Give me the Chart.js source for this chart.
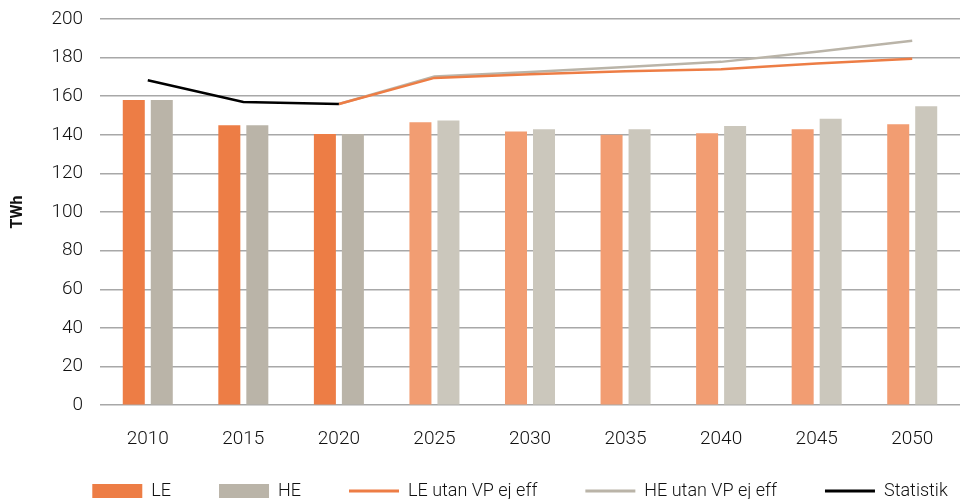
<!DOCTYPE html>
<html>
<head>
<meta charset="utf-8">
<script src="https://cdn.jsdelivr.net/npm/chart.js@4/dist/chart.umd.min.js"></script>
<style>
  html, body { margin: 0; padding: 0; background: #fff; }
  #wrap { width: 960px; height: 499px; position: relative; }
</style>
</head>
<body>
<div id="wrap"><canvas id="chart"></canvas></div>
<script>
// data
var years = ["2010", "2015", "2020", "2025", "2030", "2035", "2040", "2045", "2050"];
var le = [158, 145, 140.5, 146.5, 141.8, 140, 140.8, 142.9, 145.5];
var he = [158, 145, 140.5, 147.5, 142.9, 142.9, 144.6, 148.4, 154.8];
var leUtan = [null, null, 156, 169.5, 171.4, 173, 174, 177, 179.4];
var heUtan = [null, null, 156, 170.2, 172.5, 175.2, 177.8, 183, 188.7];
var statistik = [168.3, 157, 156, null, null, null, null, null, null];
var yTicks = [0, 20, 40, 60, 80, 100, 120, 140, 160, 180, 200];

var orange = 'rgb(237, 125, 69)';
var orangeLight = 'rgb(242, 157, 114)';
var grey = 'rgb(186, 180, 168)';
var greyLight = 'rgb(203, 199, 188)';

// first three years are outcome, the rest projections (lighter)
function barColors(solid, light) {
  return years.map(function (y) { return +y <= 2020 ? solid : light; });
}

var font = "Roboto, 'Liberation Sans', sans-serif";
Chart.defaults.font.family = font;
Chart.defaults.color = '#222';

// legend: keep wide spacing between items but not so much height,
// and move it a bit to the right like the original
var legendShift = {
  id: 'legendShift',
  beforeUpdate: function (c) {
    var lg = c.legend;
    if (!lg || lg._shifted) return;
    lg._shifted = true;
    var fit = lg.fit;
    lg.fit = function () {
      fit.call(this);
      this.height -= 51;
    };
    var draw = lg.draw;
    lg.draw = function () {
      var t = this.top, l = this.left, r = this.right;
      this.top -= 40;
      this.left += 38;
      this.right += 38;
      draw.call(this);
      this.top = t; this.left = l; this.right = r;
    };
  }
};

var ctx = document.getElementById('chart');

var chart = new Chart(ctx, {
  type: 'bar',
  data: {
    labels: years,
    datasets: [{
      label: 'LE',
      data: le,
      backgroundColor: barColors(orange, orangeLight),
      order: 2,
      categoryPercentage: 0.586,
      barPercentage: 0.786
    }, {
      label: 'HE',
      data: he,
      backgroundColor: barColors(grey, greyLight),
      order: 2,
      categoryPercentage: 0.586,
      barPercentage: 0.786
    }, {
      type: 'line',
      label: 'LE utan VP ej eff',
      data: leUtan,
      borderColor: orange,
      backgroundColor: orange,
      borderWidth: 2.5,
      pointRadius: 0,
      order: 1
    }, {
      type: 'line',
      label: 'HE utan VP ej eff',
      data: heUtan,
      borderColor: grey,
      backgroundColor: grey,
      borderWidth: 2.5,
      pointRadius: 0,
      order: 1
    }, {
      type: 'line',
      label: 'Statistik',
      data: statistik,
      borderColor: '#000',
      backgroundColor: '#000',
      borderWidth: 2.5,
      pointRadius: 0,
      order: 0
    }]
  },
  plugins: [legendShift],
  options: {
    responsive: true,
    maintainAspectRatio: false,
    animation: false,
    layout: { padding: { left: 4, right: 0, top: 19, bottom: 0 } },
    plugins: {
      tooltip: { enabled: false },
      legend: {
        position: 'bottom',
        labels: {
          font: { size: 18, family: font, weight: '300' },
          color: '#111',
          usePointStyle: true,
          pointStyleWidth: 50,
          boxHeight: 14,
          padding: 48,
          sort: function (a, b) { return a.datasetIndex - b.datasetIndex; },
          generateLabels: function (c) {
            var items = Chart.defaults.plugins.legend.labels.generateLabels(c);
            items.forEach(function (it) {
              var ds = c.data.datasets[it.datasetIndex];
              if (ds.type === 'line') {
                it.pointStyle = 'line';
                it.strokeStyle = ds.borderColor;
                it.lineWidth = 3;
              } else {
                var col = it.datasetIndex === 0 ? orange : grey;
                it.pointStyle = 'rect';
                it.fillStyle = col;
                it.strokeStyle = col;
                it.lineWidth = 0;
              }
            });
            return items;
          }
        }
      }
    },
    scales: {
      x: {
        grid: { display: false, drawTicks: false },
        border: { display: false },
        ticks: { font: { size: 19, weight: '300' }, color: '#111', padding: 23 }
      },
      y: {
        min: 0,
        max: 200,
        afterBuildTicks: function (axis) {
          axis.ticks = yTicks.map(function (v) { return { value: v }; });
        },
        afterFit: function (axis) {
          axis.width = 96;
          axis.paddingTop = 0;
          axis.paddingBottom = 0;
        },
        grid: { color: '#a8a8a8', lineWidth: 1.5, drawTicks: false },
        border: { display: false },
        ticks: { font: { size: 19, weight: '300' }, color: '#111', padding: 17 },
        title: {
          display: true,
          text: 'TWh',
          font: { size: 16, weight: 'bold' },
          color: '#111',
          padding: { bottom: 14 }
        }
      }
    }
  }
});
</script>
</body>
</html>
